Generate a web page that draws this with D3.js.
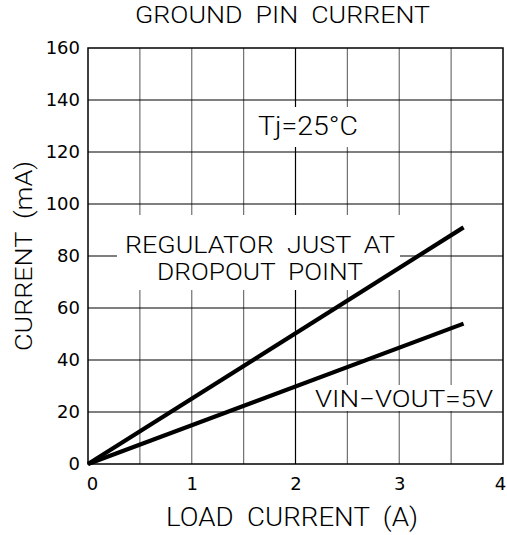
<!DOCTYPE html>
<html><head><meta charset="utf-8">
<script src="https://cdn.jsdelivr.net/npm/d3@7"></script>
<style>body{margin:0;background:#fff}svg{display:block}text{font-family:"DejaVu Sans",sans-serif;fill:#000;white-space:pre}.lt{font-family:Roboto,"DejaVu Sans",sans-serif;font-weight:300}</style>
</head><body><svg id="c" width="507" height="535"></svg>
<script>
const title = "GROUND  PIN  CURRENT";
const xTitle = "LOAD  CURRENT  (A)";
const yTitle = "CURRENT  (mA)";
const xTickLabels = [0, 1, 2, 3, 4];
const yTickLabels = [0, 20, 40, 60, 80, 100, 120, 140, 160];
const xGridValues = [0.5, 1, 1.5, 2, 2.5, 3, 3.5];
const yGridValues = [20, 40, 60, 80, 100, 120, 140];
const loadCurrent = [0, 3.62];
const dropoutGround = [0, 91];
const vin5Ground = [0, 54];
const annotations = ["Tj=25°C", "REGULATOR  JUST  AT", "DROPOUT  POINT", "VIN−VOUT=5V"];

const svg = d3.select("#c");
const x = d3.scaleLinear().domain([0, 4]).range([88, 503]);
const y = d3.scaleLinear().domain([0, 160]).range([464, 48]);

// grid
svg.append("g").selectAll("line").data(xGridValues).join("line")
  .attr("x1", d => x(d)).attr("x2", d => x(d)).attr("y1", y(0)).attr("y2", y(160))
  .attr("stroke", d => d === 2 ? "#000" : "#707070").attr("stroke-width", 1.2);
svg.append("g").selectAll("line").data(yGridValues).join("line")
  .attr("y1", d => y(d)).attr("y2", d => y(d)).attr("x1", x(0)).attr("x2", x(4))
  .attr("stroke", "#000").attr("stroke-width", 1.2);

// white boxes behind annotations
const boxes = [[250, 107, 115, 40], [117, 215, 283, 75], [308, 385, 190, 26]];
svg.append("g").selectAll("rect").data(boxes).join("rect")
  .attr("x", d => d[0]).attr("y", d => d[1]).attr("width", d => d[2]).attr("height", d => d[3])
  .attr("fill", "#fff");

// frame
svg.append("rect").attr("x", x(0)).attr("y", y(160)).attr("width", x(4) - x(0)).attr("height", y(0) - y(160))
  .attr("fill", "none").attr("stroke", "#000").attr("stroke-width", 1.5);

// axes
const xAxis = svg.append("g").attr("transform", `translate(0,${y(0)})`)
  .call(d3.axisBottom(x).tickValues(xTickLabels).tickSize(0).tickPadding(10).tickFormat(d3.format("d")));
xAxis.select(".domain").remove();
xAxis.selectAll("text").attr("font-size", 18).style("font-family", "DejaVu Sans")
  .attr("dx", d => d === 0 ? 4 : (d === 4 ? -3 : 0)).attr("y", 10).attr("dy", "0.9em");
const yAxis = svg.append("g").attr("transform", `translate(${x(0)},0)`)
  .call(d3.axisLeft(y).tickValues(yTickLabels).tickSize(0).tickPadding(8).tickFormat(d3.format("d")));
yAxis.select(".domain").remove();
yAxis.selectAll("text").attr("font-size", 18).style("font-family", "DejaVu Sans");

// lines
const line = d3.line().x(d => x(d[0])).y(d => y(d[1]));
[dropoutGround, vin5Ground].forEach(s => {
  svg.append("path").datum(loadCurrent.map((v, i) => [v, s[i]])).attr("d", line)
    .attr("fill", "none").attr("stroke", "#000").attr("stroke-width", 4.2).attr("stroke-linecap", "butt");
});

// titles
svg.append("text").attr("class", "lt").attr("x", 135).attr("y", 23).attr("font-size", 24)
  .attr("textLength", 295).attr("lengthAdjust", "spacingAndGlyphs").text(title);
svg.append("text").attr("class", "lt").attr("x", 166).attr("y", 526).attr("font-size", 25)
  .attr("textLength", 252).attr("lengthAdjust", "spacingAndGlyphs").text(xTitle);
svg.append("text").attr("class", "lt").attr("transform", "translate(32,351) rotate(-90)").attr("font-size", 24)
  .attr("textLength", 190).attr("lengthAdjust", "spacingAndGlyphs").text(yTitle);

// annotations
const ann = [[258, 135, 100, 26], [125, 253, 270, 23.5], [157, 280, 206, 23.5], [315, 407, 178, 23.5]];
svg.append("g").selectAll("text").data(ann).join("text").attr("class", "lt")
  .attr("x", d => d[0]).attr("y", d => d[1]).attr("font-size", d => d[3])
  .attr("textLength", d => d[2]).attr("lengthAdjust", "spacingAndGlyphs")
  .text((d, i) => annotations[i]);
</script></body></html>
